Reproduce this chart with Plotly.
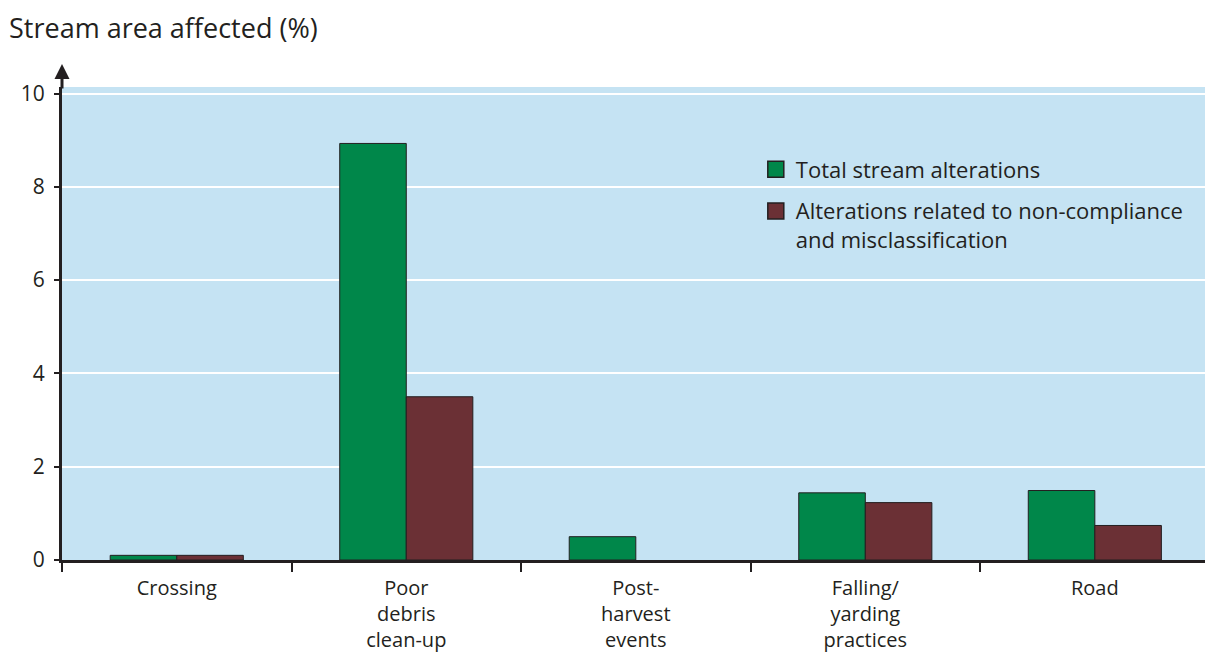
import plotly.graph_objects as go

categories = ["Crossing", "Poor<br>debris<br>clean-up", "Post-<br>harvest<br>events",
              "Falling/<br>yarding<br>practices", "Road"]
total_alterations = [0.1, 8.93, 0.5, 1.44, 1.49]
noncompliance = [0.1, 3.5, 0.0, 1.23, 0.74]
series_names = ["Total stream alterations",
                "Alterations related to non-compliance<br>and misclassification"]
y_ticks = [0, 2, 4, 6, 8, 10]

font = "Open Sans"
txt = "#231f20"
colors = ["#00874a", "#6b3035"]

fig = go.Figure()
for vals, name, col in zip([total_alterations, noncompliance], series_names, colors):
    fig.add_trace(go.Bar(x=categories, y=vals, name=name, showlegend=False,
                         marker=dict(color=col,
                                     line=dict(color=txt,
                                               width=[1 if v > 0 else 0 for v in vals]))))
# legend swatches (larger squares, as in the reference)
for i, (name, col) in enumerate(zip(series_names, colors)):
    fig.add_trace(go.Scatter(x=[None], y=[None], mode="markers", name=name,
                             legendgroup=f"g{i}",
                             marker=dict(symbol="square", size=19, color=col,
                                         line=dict(color=txt, width=1.5))))

fig.update_layout(
    width=1205, height=654,
    margin=dict(l=62, r=0, t=87, b=94, autoexpand=False),
    paper_bgcolor="white", plot_bgcolor="#c5e3f3",
    barmode="group", bargap=0.42, bargroupgap=0,
    font=dict(family=font, size=21, color=txt),
    showlegend=True,
    legend=dict(x=0.607, y=0.87, xanchor="left", yanchor="top",
                bgcolor="rgba(0,0,0,0)", font=dict(size=22, color=txt),
                itemwidth=30, tracegroupgap=10, valign="top"),
    xaxis=dict(type="category", range=[-0.5, 4.48], tickson="boundaries",
               ticks="outside", ticklen=9, tickwidth=1.5, tickcolor=txt,
               ticklabelstandoff=8,
               showline=True, linecolor=txt, linewidth=3, showgrid=False,
               automargin=False, tickfont=dict(size=20, color=txt)),
    yaxis=dict(range=[0, 10.14], tickvals=y_ticks, ticktext=[str(v) for v in y_ticks],
               ticks="outside", ticklen=5, tickwidth=1.5, tickcolor=txt,
               ticklabelstandoff=5,
               showline=True, linecolor=txt, linewidth=3, zeroline=False,
               showgrid=True, gridcolor="white", gridwidth=1.5,
               automargin=False, tickfont=dict(size=21, color=txt)),
    annotations=[
        dict(text="Stream area affected (%)", xref="paper", yref="paper",
             x=-55/1143, y=(560 - 28) / 473,
             xanchor="left", yanchor="middle",
             showarrow=False, font=dict(size=27, color=txt)),
        dict(text="", xref="paper", yref="paper", x=0, y=(560 - 64) / 473,
             ax=0, ay=26, showarrow=True, arrowhead=2, arrowsize=1,
             arrowwidth=3, arrowcolor=txt),
    ],
)

fig.write_html("out.html", config={"displayModeBar": False},
               post_script="document.body.style.margin='0';document.body.style.overflow='hidden';")
